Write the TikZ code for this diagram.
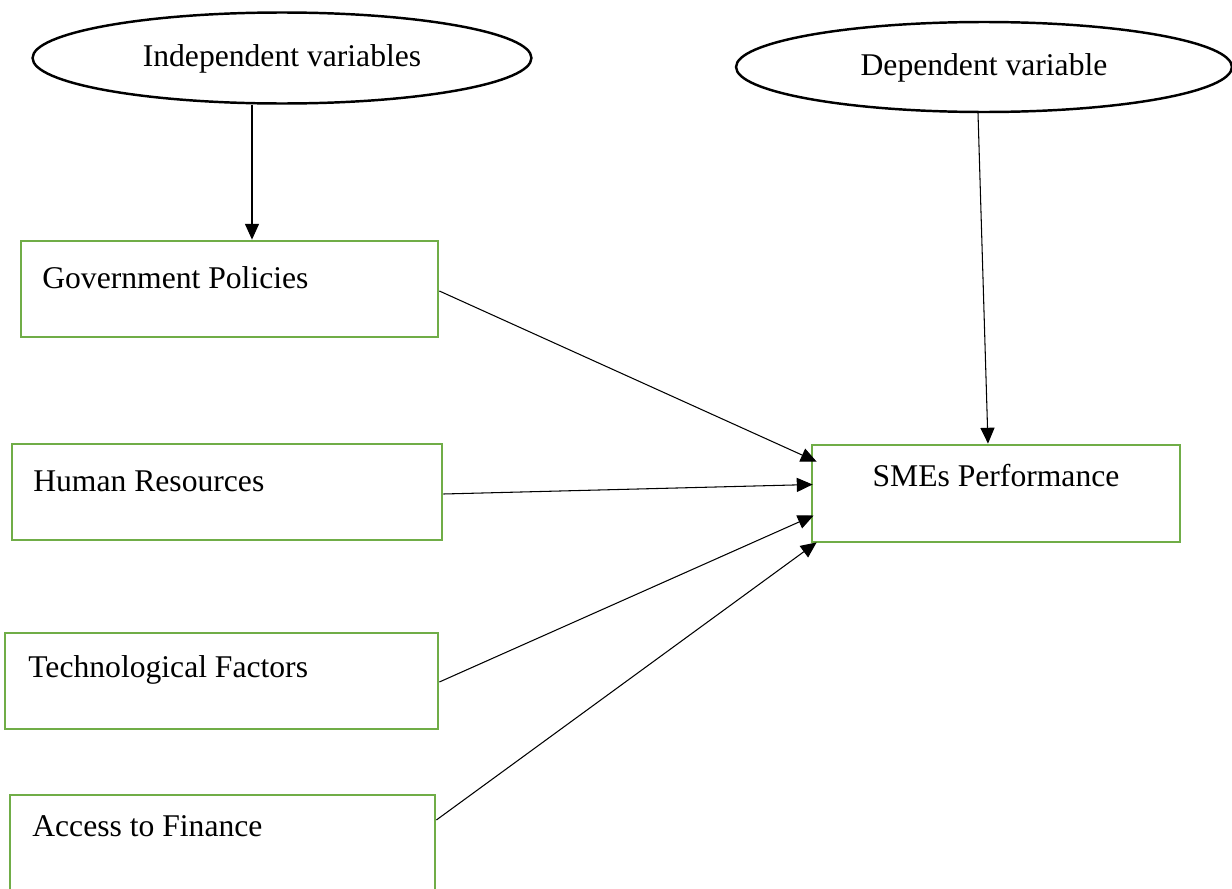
\documentclass[tikz,border=0pt]{standalone}
\usepackage{fontspec}
\setmainfont{Liberation Serif}
\usetikzlibrary{calc}
\usetikzlibrary{arrows.meta}
\usetikzlibrary{shapes.geometric}
\definecolor{boxgreen}{RGB}{112,173,71}
\tikzset{
  varoval/.style={draw=black, line width=1.4pt, ellipse, inner sep=0pt},
  factor/.style={draw=boxgreen, line width=1.6pt, inner sep=0pt},
  lbl/.style={anchor=west, inner sep=0pt, font=\fontsize{18}{21}\selectfont},
  link/.style={-{Triangle[length=9pt,width=8pt]}, line width=0.6pt}
}

\begin{document}
\begin{tikzpicture}[x=0.02cm, y=-0.02cm]

\useasboundingbox (0,0) rectangle (1232,889);

\node[varoval, minimum width=9.98cm, minimum height=1.82cm] (indep) at (282,58) {};
\node[lbl, anchor=center] at (282,59) {Independent variables};
\node[varoval, minimum width=9.92cm, minimum height=1.80cm] (dep) at (984,67) {};
\node[lbl, anchor=center] at (984,68) {Dependent variable};

\node[factor, minimum width=8.34cm, minimum height=1.92cm] (gov) at (229.5,289) {};
\node[lbl] at (42,278) {Government Policies};
\node[factor, minimum width=8.60cm, minimum height=1.92cm] (hum) at (227,492) {};
\node[lbl] at (33,481) {Human Resources};
\node[factor, minimum width=8.66cm, minimum height=1.92cm] (tech) at (221.5,681) {};
\node[lbl] at (28,670) {Technological Factors};
\node[factor, minimum width=8.50cm, minimum height=1.96cm] (fin) at (222.5,844) {};
\node[lbl] at (32,826) {Access to Finance};
\node[factor, minimum width=7.36cm, minimum height=1.94cm] (sme) at (996,493.5) {};
\node[lbl, anchor=center] at (996,476) {SMEs Performance};

% arrows into the boxes
\draw[link] (indep.south -| 252,0) -- (gov.north -| 252,0);
\draw[link] (978,113) -- (sme.north -| 988,0);
\draw[link] ($(gov.east)+(0,2)$) -- ($(sme.north west)+(6,18)$);
\draw[link] ($(hum.east)+(0,2)$) -- ($(sme.west)+(2,-9)$);
\draw[link] ($(tech.east)+(0,1)$) -- ($(sme.west)+(3,22)$);
\draw[link] ($(fin.east)+(0,-24)$) -- ($(sme.south west)+(6,-1)$);

\end{tikzpicture}
\end{document}
